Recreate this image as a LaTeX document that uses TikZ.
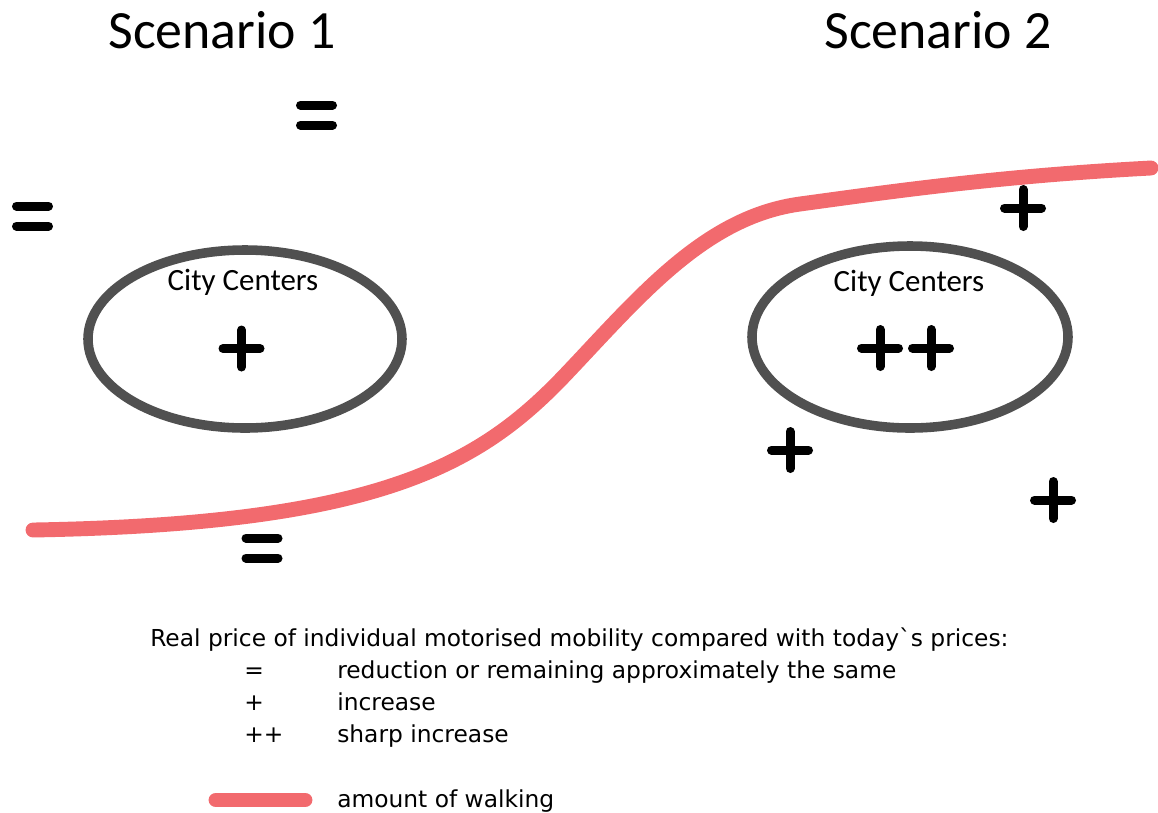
\documentclass[tikz,border=0pt]{standalone}
\usepackage{fontspec}
\setmainfont{Carlito}
\newfontfamily\legendfont[Ligatures=TeXOff]{DejaVu Sans}
\usetikzlibrary{positioning}
\definecolor{ink}{HTML}{000000}
\definecolor{rim}{HTML}{505050}
\definecolor{walk}{HTML}{F26A6E}
\tikzset{
  title/.style={font=\fontsize{38.3}{40}\selectfont, inner sep=0pt, anchor=base},
  citylabel/.style={font=\fontsize{22}{24}\selectfont, inner sep=0pt, anchor=base},
  centre/.style={draw=rim, line width=6.8pt},
  walkline/.style={draw=walk, line width=10.6pt, line cap=round},
  sign/.style={draw=ink, line width=6.4pt, line cap=round},
  legend/.style={font=\legendfont\fontsize{16.6}{18}\selectfont, inner sep=0pt,
                 anchor=base west}
}
% bold price marks, centred on (x,y)
\newcommand{\plusmark}[2]{\draw[sign] (#1-18.5,#2) -- (#1+18.5,#2) (#1,#2-18.5) -- (#1,#2+18.5);}
\newcommand{\eqmark}[2]{\draw[sign] (#1-16,#2-10) -- (#1+16,#2-10) (#1-16,#2+10) -- (#1+16,#2+10);}

\begin{document}
\begin{tikzpicture}[x=0.025cm,y=-0.025cm]
    \useasboundingbox (0,0) rectangle (1158,812);

    % ===== titles =====
    \node[title] (scen1) at (222,48) {Scenario 1};
    \node[title] (scen2) at (938,48) {Scenario 2};

    % ===== city centres =====
    \draw[centre] (245,339) ellipse [x radius=157, y radius=89];
    \node[citylabel] (city1) at (243,290) {City Centers};
    \draw[centre] (910,337) ellipse [x radius=158, y radius=91];
    \node[citylabel] (city2) at (909,291) {City Centers};

    % ===== price marks =====
    \eqmark{316.5}{115}
    \eqmark{32.5}{216}
    \eqmark{262}{548}
    \plusmark{241.5}{348.5}
    \plusmark{880}{348}
    \plusmark{931}{348}
    \plusmark{1023}{208}
    \plusmark{790}{450}
    \plusmark{1053}{500}

    % ===== walking boundary: S-curve from low left to high right =====
    \draw[walkline] (33,530) .. controls (380,524) and (480,465) .. (567,373)
                             .. controls (640,296) and (705,217) .. (800,204)
                             .. controls (895,191) and (1000,176) .. (1151,168);

    % ===== legend =====
    \node[legend] (pricehead) at (150,646)
      {Real price of individual motorised mobility compared with today`s prices:};
    \node[legend] (eqsym) at (244,678) {=};
    \node[legend] (eqtext) at (337,678) {reduction or remaining approximately the same};
    \node[legend] (plsym) at (244,710) {+};
    \node[legend] (pltext) at (337,710) {increase};
    \node[legend] (ppsym) at (244,742) {++};
    \node[legend] (pptext) at (337,742) {sharp increase};
    \coordinate (walkA) at (216,800);
    \coordinate (walkB) at (305,800);
    \draw[walkline] (walkA) -- (walkB);
    \node[legend] (walktext) at (337,807) {amount of walking};
  \end{tikzpicture}
\end{document}
